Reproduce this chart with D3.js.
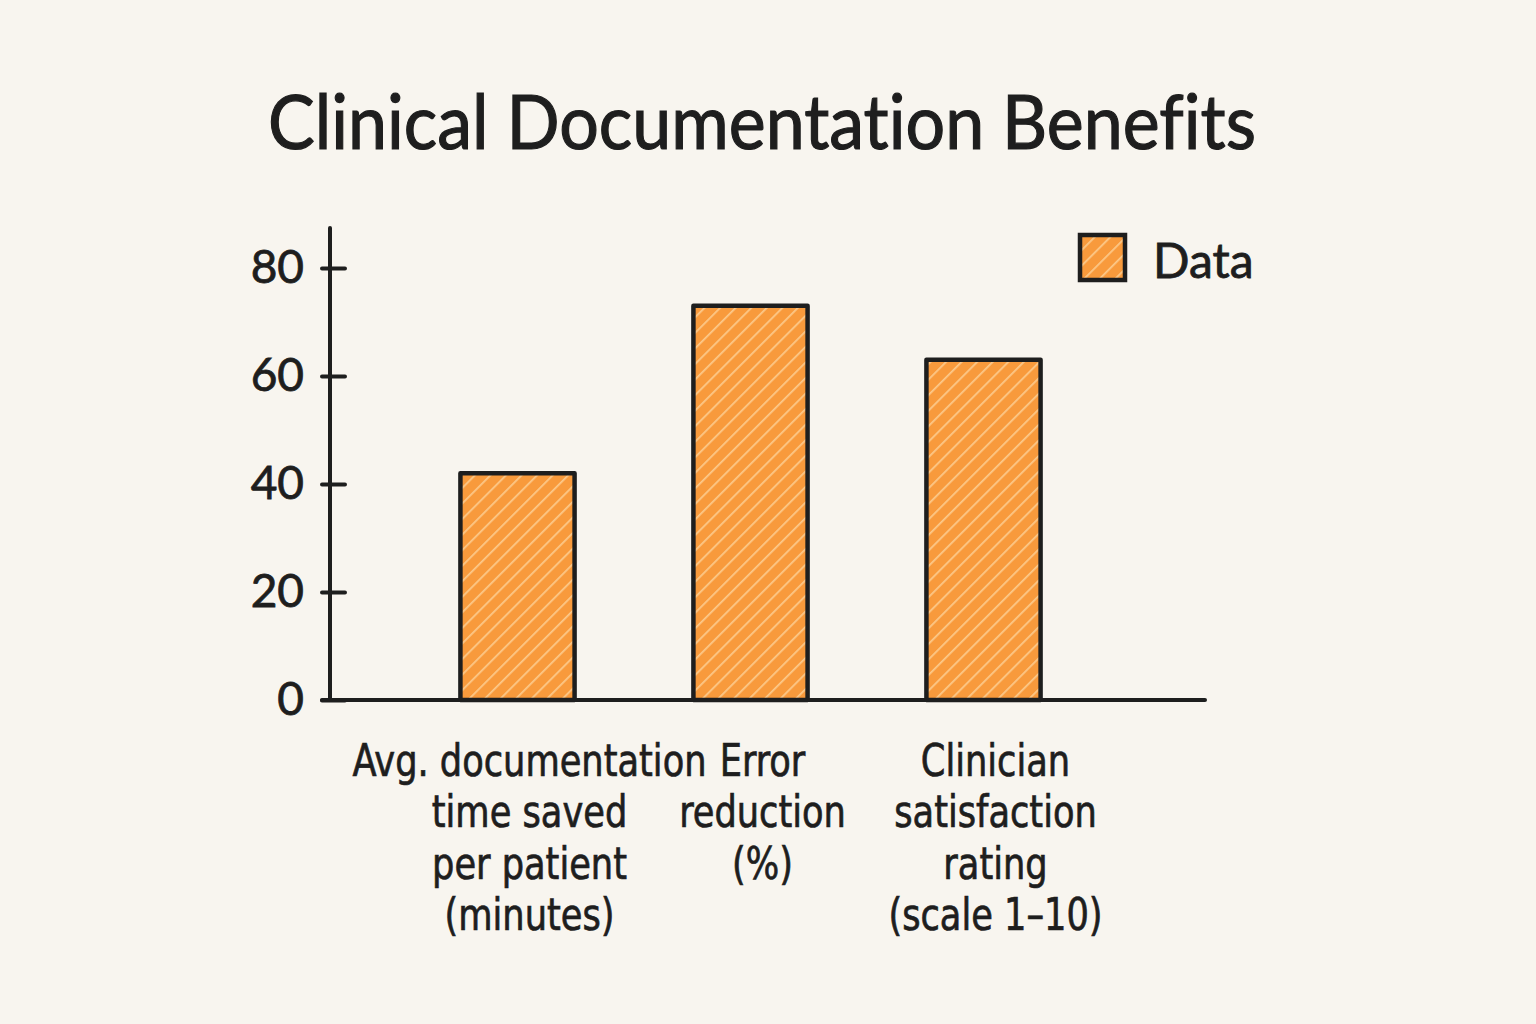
<!DOCTYPE html>
<html>
<head>
<meta charset="utf-8">
<script src="https://cdn.jsdelivr.net/npm/d3@7"></script>
<style>
  body { margin: 0; background: #f8f5ef; }
  svg { display: block; }
  text { fill: #1e1e1e; font-variant-ligatures: none; }
</style>
</head>
<body>
<svg id="chart"></svg>
<script>
// chart data
var categories = [
    ['Avg. documentation', 'time saved', 'per patient', '(minutes)'],
    ['Error', 'reduction', '(%)'],
    ['Clinician', 'satisfaction', 'rating', '(scale 1\u201310)']
];
var values = [42, 73, 63];
var yTicks = [0, 20, 40, 60, 80];
var seriesName = 'Data';
var title = 'Clinical Documentation Benefits';

var width = 1536;
var height = 1024;
var ink = '#1e1e1e';
var orange = '#f89a3c';
var stripe = '#fcc98a';
var roundFont = 'Lato, "Noto Sans", sans-serif';
var narrowFont = '"Liberation Sans Narrow", "DejaVu Sans Condensed", sans-serif';

var svg = d3.select('#chart')
    .attr('width', width)
    .attr('height', height);

svg.append('rect')
    .attr('width', width)
    .attr('height', height)
    .attr('fill', '#f8f5ef');

// hatch pattern for the bars
var defs = svg.append('defs');
var pattern = defs.append('pattern')
    .attr('id', 'hatch')
    .attr('patternUnits', 'userSpaceOnUse')
    .attr('width', 11)
    .attr('height', 11)
    .attr('patternTransform', 'rotate(45)');
pattern.append('rect')
    .attr('width', 11)
    .attr('height', 11)
    .attr('fill', orange);
pattern.append('line')
    .attr('x1', 0).attr('y1', 0)
    .attr('x2', 0).attr('y2', 11)
    .attr('stroke', stripe)
    .attr('stroke-width', 3.5);

var x = d3.scaleBand()
    .domain(d3.range(values.length))
    .range([401, 1100])
    .paddingInner(0.51)
    .paddingOuter(0.255);

var y = d3.scaleLinear()
    .domain([0, 80])
    .range([700, 268]);

// title
svg.append('text')
    .attr('x', 268)
    .attr('y', 149)
    .attr('textLength', 988)
    .attr('lengthAdjust', 'spacingAndGlyphs')
    .style('font-family', roundFont)
    .style('font-size', '76px')
    .style('stroke', ink)
    .style('stroke-width', 1.2)
    .text(title);

// bars
svg.selectAll('rect.bar')
    .data(values)
    .enter()
    .append('rect')
    .attr('class', 'bar')
    .attr('x', (d, i) => x(i))
    .attr('y', d => y(d))
    .attr('width', x.bandwidth())
    .attr('height', d => y(0) - y(d))
    .attr('fill', 'url(#hatch)')
    .attr('stroke', ink)
    .attr('stroke-width', 4.5)
    .attr('stroke-linejoin', 'round');

// y axis
var yAxis = svg.append('g')
    .attr('transform', 'translate(330,0)')
    .call(d3.axisLeft(y).tickValues(yTicks).tickSize(0).tickPadding(26));
yAxis.select('.domain').remove();
yAxis.selectAll('.tick line')
    .attr('x1', -8)
    .attr('x2', 15)
    .attr('stroke', ink)
    .attr('stroke-width', 4)
    .attr('stroke-linecap', 'round');
yAxis.selectAll('.tick text')
    .style('font-family', roundFont)
    .style('font-size', '46px')
    .style('stroke', ink)
    .style('stroke-width', 0.8)
    .attr('fill', ink);

svg.append('line')
    .attr('x1', 330).attr('y1', 228)
    .attr('x2', 330).attr('y2', y(0))
    .attr('stroke', ink)
    .attr('stroke-width', 4)
    .attr('stroke-linecap', 'round');

svg.append('line')
    .attr('x1', 322).attr('y1', y(0))
    .attr('x2', 1205).attr('y2', y(0))
    .attr('stroke', ink)
    .attr('stroke-width', 4)
    .attr('stroke-linecap', 'round');

// category labels
var labels = svg.selectAll('text.cat')
    .data(categories)
    .enter()
    .append('text')
    .attr('class', 'cat')
    .attr('text-anchor', 'middle')
    .attr('transform', (d, i) => `translate(${x(i) + x.bandwidth() / 2 + 12},0) scale(0.87,1)`)
    .style('font-family', narrowFont)
    .style('font-size', '45px')
    .style('stroke', ink)
    .style('stroke-width', 0.7);
labels.selectAll('tspan')
    .data(d => d)
    .enter()
    .append('tspan')
    .attr('x', 0)
    .attr('y', (d, j) => 776 + j * 51.5)
    .text(d => d);

// legend
var legend = svg.append('g')
    .attr('transform', 'translate(1080,235)');
legend.append('rect')
    .attr('width', 45)
    .attr('height', 45)
    .attr('fill', 'url(#hatch)')
    .attr('stroke', ink)
    .attr('stroke-width', 4.5);
legend.append('text')
    .attr('x', 73)
    .attr('y', 43)
    .style('font-family', roundFont)
    .style('font-size', '48px')
    .style('stroke', ink)
    .style('stroke-width', 0.8)
    .text(seriesName);
</script>
</body>
</html>
